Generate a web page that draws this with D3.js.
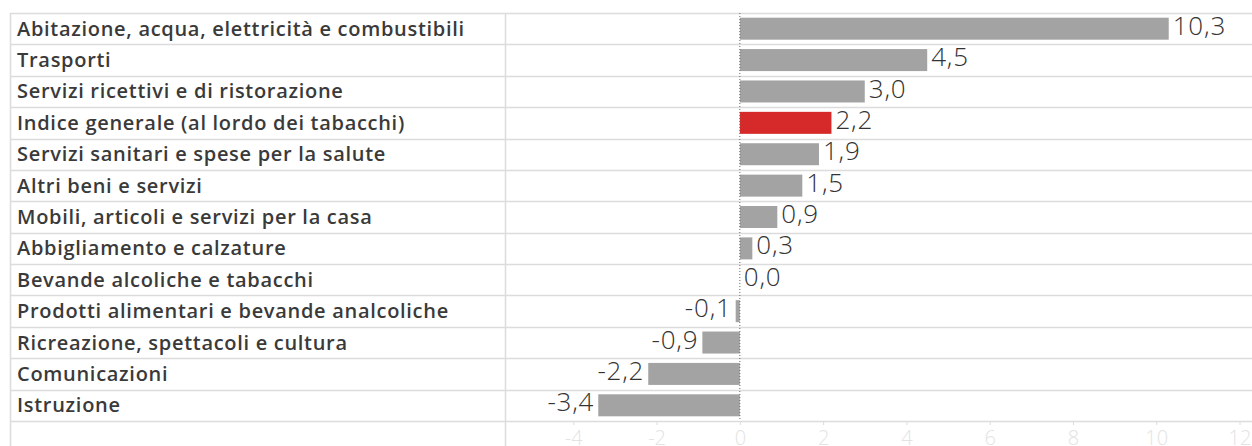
<!DOCTYPE html>
<html>
<head>
<meta charset="utf-8">
<script src="https://cdn.jsdelivr.net/npm/d3@7"></script>
<style>
  body { margin: 0; background: #fff; }
  svg { display: block; }
</style>
</head>
<body>
<div id="canvas"></div>
<script>
const categories = [
  "Abitazione, acqua, elettricità e combustibili",
  "Trasporti",
  "Servizi ricettivi e di ristorazione",
  "Indice generale (al lordo dei tabacchi)",
  "Servizi sanitari e spese per la salute",
  "Altri beni e servizi",
  "Mobili, articoli e servizi per la casa",
  "Abbigliamento e calzature",
  "Bevande alcoliche e tabacchi",
  "Prodotti alimentari e bevande analcoliche",
  "Ricreazione, spettacoli e cultura",
  "Comunicazioni",
  "Istruzione"
];
const values = [10.3, 4.5, 3.0, 2.2, 1.9, 1.5, 0.9, 0.3, 0.0, -0.1, -0.9, -2.2, -3.4];
const highlighted = ["Indice generale (al lordo dei tabacchi)"];
const tickValues = [-4, -2, 0, 2, 4, 6, 8, 10, 12];

const width = 1252;
const height = 446;
const rowsTop = 13;
const rowsBottom = 421;
const labelLeft = 10;
const plotLeft = 505;
const plotRight = 1252;

const data = categories.map((c, i) => ({ name: c, value: values[i] }));
const fmt = (v) => d3.format(".1f")(v).replace(".", ",").replace("\u2212", "-");

const svg = d3.select("#canvas").append("svg")
  .attr("width", width)
  .attr("height", height);

const y = d3.scaleBand()
  .domain(categories)
  .range([rowsTop, rowsBottom])
  .padding(0);

const x = d3.scaleLinear()
  .domain([-5.64, 12.3])
  .range([plotLeft, plotRight]);

// row separators
svg.append("g")
  .selectAll("line")
  .data(d3.range(categories.length + 1))
  .join("line")
  .attr("x1", labelLeft)
  .attr("x2", width)
  .attr("y1", (i) => Math.round(rowsTop + i * y.step()) + 0.5)
  .attr("y2", (i) => Math.round(rowsTop + i * y.step()) + 0.5)
  .attr("stroke", "#dcdcdc")
  .attr("stroke-width", 1.5);

// vertical borders
svg.append("g")
  .selectAll("line")
  .data([labelLeft, plotLeft])
  .join("line")
  .attr("x1", (d) => d + 0.5)
  .attr("x2", (d) => d + 0.5)
  .attr("y1", rowsTop)
  .attr("y2", height)
  .attr("stroke", "#dcdcdc")
  .attr("stroke-width", 1.5);

// bottom axis (labels are clipped by the bottom edge, as in the original)
const axis = svg.append("g")
  .attr("transform", `translate(0,${rowsBottom})`)
  .call(d3.axisBottom(x).tickValues(tickValues).tickSize(4).tickPadding(6));
axis.select(".domain").remove();
axis.selectAll(".tick line").attr("stroke", "#dcdcdc");
axis.selectAll(".tick text")
  .attr("fill", "#e3e3e3")
  .style("font-family", "'Open Sans', sans-serif")
  .style("font-size", "20px")
  .style("font-weight", 300)
  .text((d) => String(d));

// bars
const barH = 22;
svg.append("g")
  .selectAll("rect")
  .data(data)
  .join("rect")
  .attr("x", (d) => x(Math.min(0, d.value)))
  .attr("y", (d) => y(d.name) + y.bandwidth() / 2 - barH / 2)
  .attr("width", (d) => Math.abs(x(d.value) - x(0)))
  .attr("height", barH)
  .attr("fill", (d) => highlighted.includes(d.name) ? "#d62a2a" : "#a3a3a3");

// zero line
svg.append("line")
  .attr("x1", x(0))
  .attr("x2", x(0))
  .attr("y1", rowsTop)
  .attr("y2", rowsBottom)
  .attr("stroke", "#666")
  .attr("stroke-width", 1)
  .attr("stroke-dasharray", "1,2");

// value labels
svg.append("g")
  .selectAll("text")
  .data(data)
  .join("text")
  .attr("x", (d) => d.value < 0 ? x(d.value) - 4 : x(d.value) + 4)
  .attr("y", (d) => y(d.name) + y.bandwidth() / 2 - 3)
  .attr("dy", "0.35em")
  .attr("text-anchor", (d) => d.value < 0 ? "end" : "start")
  .attr("fill", "#333")
  .style("font-family", "'Open Sans', sans-serif")
  .style("font-size", "26px")
  .style("font-weight", 300)
  .style("letter-spacing", "0.8px")
  .text((d) => fmt(d.value));

// category labels
svg.append("g")
  .selectAll("text")
  .data(data)
  .join("text")
  .attr("x", 17)
  .attr("y", (d) => y(d.name) + y.bandwidth() / 2)
  .attr("dy", "0.35em")
  .attr("fill", "#3a3a3a")
  .style("font-family", "'Open Sans', sans-serif")
  .style("font-size", "20px")
  .style("font-weight", 600)
  .style("letter-spacing", "0.7px")
  .text((d) => d.name);
</script>
</body>
</html>
